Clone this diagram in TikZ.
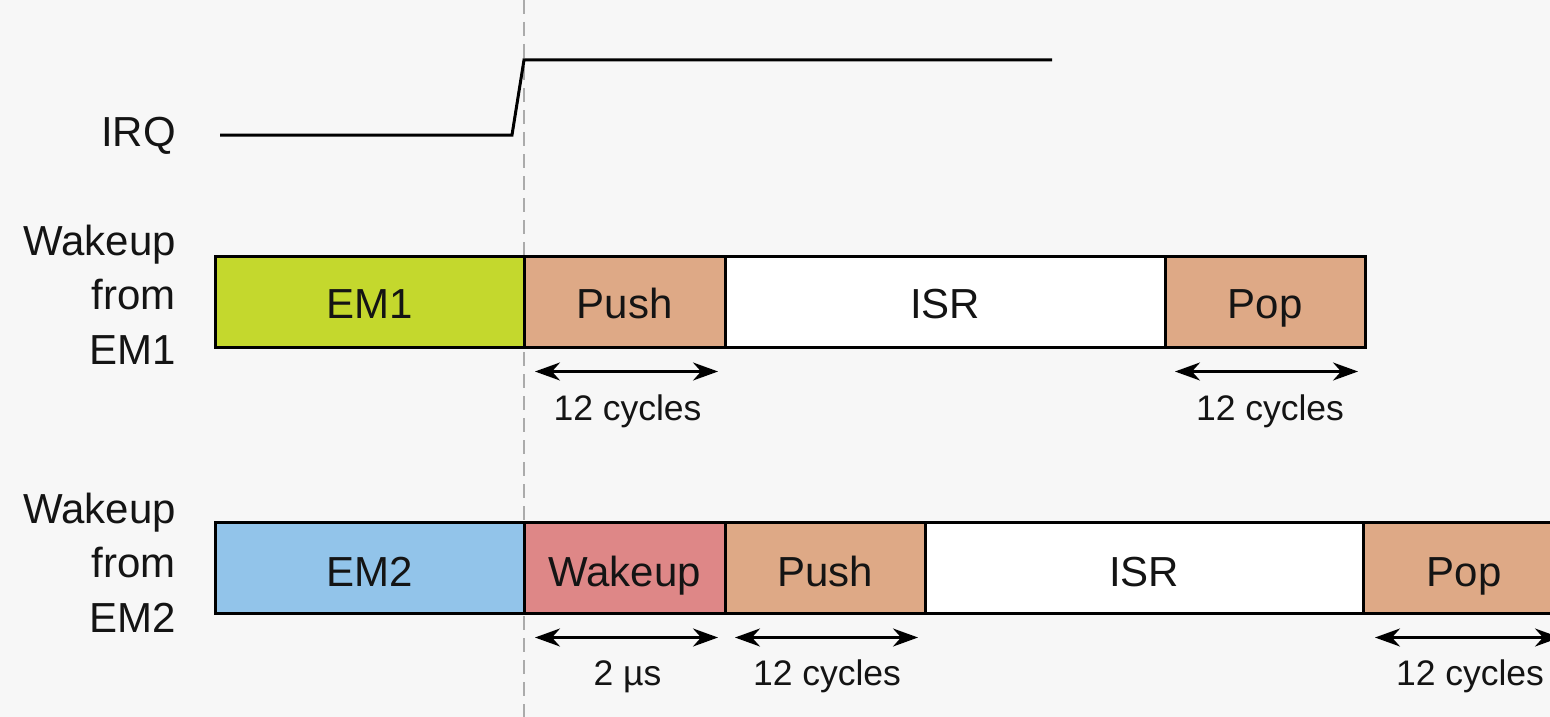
\documentclass[tikz,border=0pt]{standalone}
\usepackage{fontspec}
\setmainfont{Liberation Sans}
\usetikzlibrary{arrows.meta,calc}

\definecolor{bgcol}{HTML}{F7F7F7}
\definecolor{emone}{HTML}{C4D82D}
\definecolor{emtwo}{HTML}{92C4EA}
\definecolor{stack}{HTML}{DEA986}
\definecolor{wake}{HTML}{DE8787}
\definecolor{guide}{HTML}{ABABAB}
\definecolor{ink}{HTML}{141414}

\tikzset{
  phase/.style={draw=black, line width=3pt, anchor=west, minimum height=91pt,
    inner sep=0pt, outer sep=0pt, text height=32pt, text depth=0pt, text=ink,
    font=\fontsize{42}{50}\selectfont},
  lowrow/.style={text height=36pt},
  rowlabel/.style={align=right, anchor=base east, inner sep=0pt, text=ink,
    font=\fontsize{42}{54.5}\selectfont},
  span/.style={line width=2.5pt, >={Stealth[length=25pt,width=18pt,inset=8pt]}, <->},
  spanlabel/.style={anchor=base, inner sep=0pt, text=ink,
    font=\fontsize{35.5}{42}\selectfont},
  signal/.style={line width=3pt, line join=miter},
}

\begin{document}
\begin{tikzpicture}[x=1pt, y=-1pt]
  \useasboundingbox (0,0) rectangle (1550,717);
  \clip (0,0) rectangle (1550,717);
  \fill[bgcol] (0,0) rectangle (1550,717);

  % interrupt instant marker
  \coordinate (gtop) at (524,0);
  \coordinate (gbot) at (524,717);
  \draw[guide, line width=2pt, dash pattern=on 14pt off 8pt] (gtop) -- (gbot);

  % IRQ waveform
  \node[rowlabel] (irq) at (176,146) {IRQ};
  \coordinate (irqL) at (220,135);
  \coordinate (irqA) at (512,135);
  \coordinate (irqB) at (524,60);
  \coordinate (irqR) at (1052,60);
  \draw[signal] (irqL) -- (irqA) -- (irqB) -- (irqR);

  % wakeup from EM1 (anchored at the baseline of the last line)
  \node[rowlabel] (lab1) at (176,364) {Wakeup\\from\\EM1};
  \node[phase, fill=emone, minimum width=309pt] (em1)   at (215,302) {EM1};
  \node[phase, fill=stack, minimum width=201pt] (push1) at (em1.east)  {Push};
  \node[phase, fill=white, minimum width=440pt] (isr1)  at (push1.east) {ISR};
  \node[phase, fill=stack, minimum width=200pt] (pop1)  at (isr1.east) {Pop};

  \draw[span] ([xshift=11pt,yshift=-24pt]push1.south west) -- ([xshift=-7pt,yshift=-24pt]push1.south east);
  \node[spanlabel] (c1) at ([xshift=3pt,yshift=-73pt]push1.south) {12 cycles};
  \draw[span] ([xshift=10pt,yshift=-24pt]pop1.south west) -- ([xshift=-7pt,yshift=-24pt]pop1.south east);
  \node[spanlabel] (c2) at ([xshift=5pt,yshift=-73pt]pop1.south) {12 cycles};

  % wakeup from EM2
  \node[rowlabel] (lab2) at (176,632) {Wakeup\\from\\EM2};
  \node[phase, lowrow, fill=emtwo, minimum width=309pt] (em2)   at (215,568) {EM2};
  \node[phase, lowrow, fill=wake,  minimum width=201pt] (wk2)   at (em2.east)  {Wakeup};
  \node[phase, lowrow, fill=stack, minimum width=200pt] (push2) at (wk2.east)  {Push};
  \node[phase, lowrow, fill=white, minimum width=438pt] (isr2)  at (push2.east) {ISR};
  \node[phase, lowrow, fill=stack, minimum width=202pt] (pop2)  at (isr2.east) {Pop};

  \draw[span] ([xshift=11pt,yshift=-24pt]wk2.south west) -- ([xshift=-7pt,yshift=-24pt]wk2.south east);
  \node[spanlabel] (c3) at ([xshift=3pt,yshift=-72pt]wk2.south) {2 µs};
  \draw[span] ([xshift=10pt,yshift=-24pt]push2.south west) -- ([xshift=-7pt,yshift=-24pt]push2.south east);
  \node[spanlabel] (c4) at ([xshift=2pt,yshift=-72pt]push2.south) {12 cycles};
  \draw[span] ([xshift=12pt,yshift=-24pt]pop2.south west) -- ([xshift=-5pt,yshift=-24pt]pop2.south east);
  \node[spanlabel] (c5) at ([xshift=6pt,yshift=-72pt]pop2.south) {12 cycles};
\end{tikzpicture}
\end{document}
